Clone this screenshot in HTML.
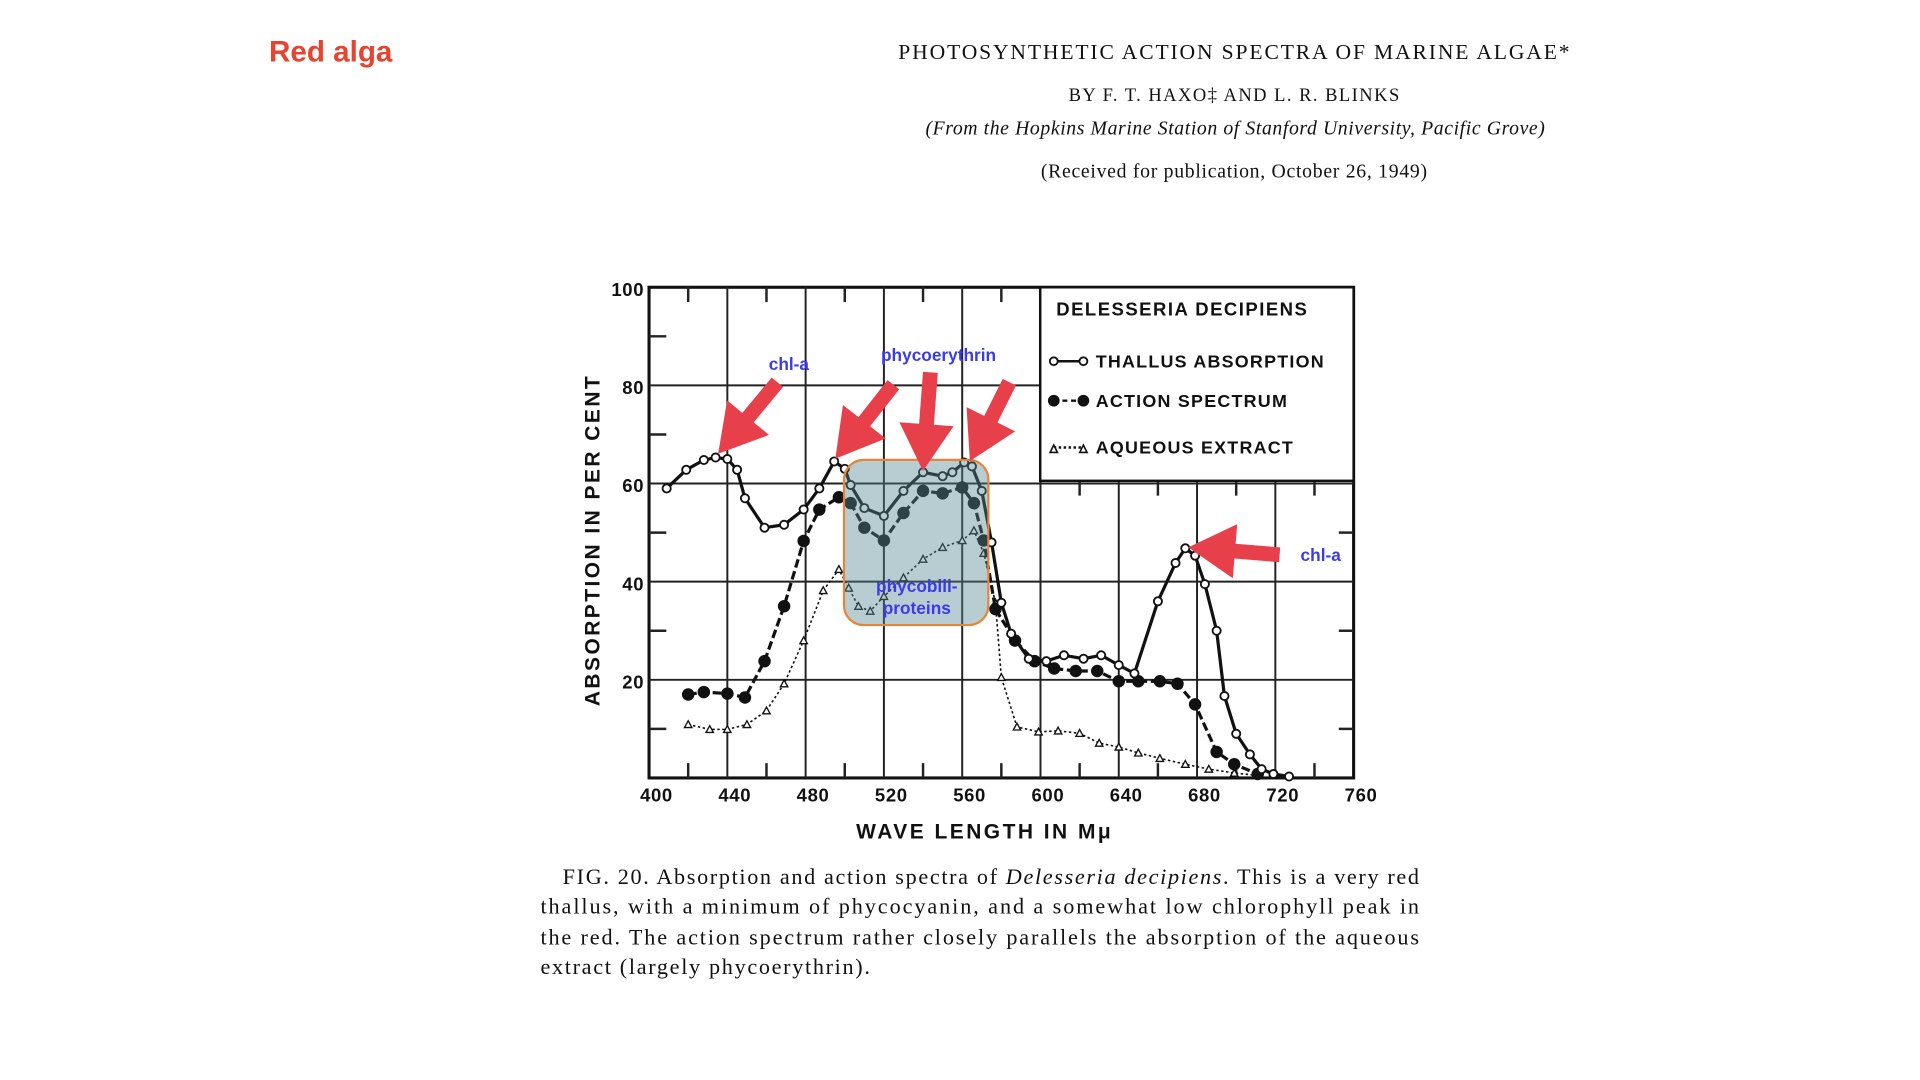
<!DOCTYPE html>
<html><head><meta charset="utf-8"><style>
html,body{margin:0;padding:0;background:#fff;width:1920px;height:1080px;overflow:hidden}
svg{display:block}
.sc{font-family:"Liberation Sans",sans-serif;font-weight:bold;fill:#111}
.sf{font-family:"Liberation Serif",serif;fill:#111}
</style></head><body>
<svg id="chart" width="1920" height="1080" viewBox="0 0 1556 876" preserveAspectRatio="none" xmlns="http://www.w3.org/2000/svg">
<text x="218" y="50" font-family="Liberation Sans,sans-serif" font-weight="bold" font-size="24" fill="#e8432f">Red alga</text>
<text class="sf" x="1000" y="48" text-anchor="middle" font-size="17.5" textLength="544">PHOTOSYNTHETIC ACTION SPECTRA OF MARINE ALGAE*</text>
<text class="sf" x="1000" y="82" text-anchor="middle" font-size="15" textLength="268">BY F. T. HAXO‡ AND L. R. BLINKS</text>
<text class="sf" x="1001" y="109" text-anchor="middle" font-size="16" font-style="italic" textLength="502">(From the Hopkins Marine Station of Stanford University, Pacific Grove)</text>
<text class="sf" x="1000" y="144" text-anchor="middle" font-size="16" textLength="313">(Received for publication, October 26, 1949)</text>
<g id="plot"></g>
<g id="caption">
<text class="sf" x="456" y="717" font-size="18" textLength="694">FIG. 20.  Absorption and action spectra of <tspan font-style="italic">Delesseria decipiens</tspan>. This is a very red</text>
<text class="sf" x="438" y="741" font-size="18" textLength="712">thallus, with a minimum of phycocyanin, and a somewhat low chlorophyll peak in</text>
<text class="sf" x="438" y="766" font-size="18" textLength="712">the red. The action spectrum rather closely parallels the absorption of the aqueous</text>
<text class="sf" x="438" y="790" font-size="18" textLength="267">extract (largely phycoerythrin).</text>
</g>
</svg>
<script>
const xTicks=[400,440,480,520,560,600,640,680,720,760];
const yTicks=[20,40,60,80,100];
const thallusX=[409,419,428,434,440,445,449,459,469,479,487,494.6,500,503,510,520,530,540,550,555,561,565,570,575,580,585,594,603,612,622,631,640,648,660,669,674,679,684,690,694,700,707,713,719,727];
const thallusY=[59,62.8,64.8,65.3,65,62.8,57,51,51.6,54.7,59,64.5,63,59.7,55,53.4,58.5,62.3,61.5,62.3,64.3,63.5,58.5,48,35.7,29.4,24.3,23.8,25,24.3,25,23,21.3,36,43.8,46.8,45.3,39.5,30,16.7,9,4.8,1.8,0.8,0.3];
const actionX=[420,428,440,449,459,469,479,487,497,503,510,520,530,540,550,560,566,571,577,587,597,607,618,629,640,650,661,670,679,690,699,711];
const actionY=[17,17.5,17.2,16.4,23.8,35,48.3,54.7,57.2,56,51,48.4,54,58.5,58,59.2,56,48.4,34.4,28,23.8,22.3,21.8,21.8,19.7,19.7,19.7,19.2,15,5.3,2.8,0.8];
const aqueousX=[420,431,440,450,460,469,479,489,497,502,507,513,520,530,540,550,560,566,571,577,580,588,599,609,620,630,640,650,661,674,686,699,711];
const aqueousY=[10.9,9.9,9.9,10.9,13.7,19.2,28,38.2,42.5,38.7,35,34,37,40.8,44.6,47,48.4,50.4,45.8,35.7,20.5,10.4,9.4,9.6,9.1,7.1,6.3,5.1,4,2.8,1.8,1,0.5];

const NS="http://www.w3.org/2000/svg";
const L=526,R=1097,T=233,B=631;
const sx=v=>L+(v-400)*(R-L)/360;
const sy=v=>B-v*(B-T)/100;
const g=document.getElementById('plot');
function mk(tag,a,parent){const e=document.createElementNS(NS,tag);for(const k in a)e.setAttribute(k,a[k]);(parent||g).appendChild(e);return e;}
// frame
let e=mk('rect',{x:L,y:T,width:R-L,height:B-T,fill:'none',stroke:'#111','stroke-width':2.5});


// grid verticals
[440,480,520,560,600,640,680,720].forEach(v=>{
 const x=sx(v);const top=(x>843)?390:T;
 e=mk('line',{x1:x,x2:x,y1:top,y2:B,stroke:'#222','stroke-width':1.6});
 
 
});
[20,40,60,80].forEach(v=>{
 const y=sy(v);const right=(y<390)?843:R;
 e=mk('line',{x1:L,x2:right,y1:y,y2:y,stroke:'#222','stroke-width':1.6});
 
 
});
// minor ticks
[420,460,500,540,580,620,660,700,740].forEach(v=>{const x=sx(v);
 if(x<843)mk('line',{x1:x,x2:x,y1:T,y2:T+12,stroke:'#222','stroke-width':2});
 mk('line',{x1:x,x2:x,y1:B,y2:B-12,stroke:'#222','stroke-width':2});
 if(x>843)mk('line',{x1:x,x2:x,y1:390,y2:402,stroke:'#222','stroke-width':2});
});
[10,30,50,70,90].forEach(v=>{const y=sy(v);
 mk('line',{x1:L,x2:L+14,y1:y,y2:y,stroke:'#222','stroke-width':2});
 if(y>390)mk('line',{x1:R,x2:R-12,y1:y,y2:y,stroke:'#222','stroke-width':2});
});
// legend box
e=mk('rect',{x:843,y:T,width:R-843,height:157,fill:'#fff',stroke:'#111','stroke-width':2});


function txt(s,a){const t=mk('text',a);t.textContent=s;return t;}
e=txt('DELESSERIA DECIPIENS',{x:856,y:256,'font-size':15,class:'sc','letter-spacing':1.2});


const leg=[['THALLUS  ABSORPTION',298,'o'],['ACTION  SPECTRUM',330,'f'],['AQUEOUS  EXTRACT',368,'t']];
leg.forEach(l=>{
 const y=l[1]-5;
 mk('line',{x1:854,x2:878,y1:y,y2:y,stroke:'#111','stroke-width':2,'stroke-dasharray':l[2]=='o'?'':(l[2]=='f'?'4,3':'2,2')});
 if(l[2]=='t'){mk('path',{d:`M851,${y+4}l3,-6l3,6z`,fill:'#fff',stroke:'#111','stroke-width':1.3});mk('path',{d:`M875,${y+4}l3,-6l3,6z`,fill:'#fff',stroke:'#111','stroke-width':1.3});}
 else{mk('circle',{cx:854,cy:y,r:l[2]=='f'?4:3.2,fill:l[2]=='f'?'#111':'#fff',stroke:'#111','stroke-width':1.5});mk('circle',{cx:878,cy:y,r:l[2]=='f'?4:3.2,fill:l[2]=='f'?'#111':'#fff',stroke:'#111','stroke-width':1.5});}
 e=txt(l[0],{x:888,y:l[1],'font-size':14.5,class:'sc','letter-spacing':1});
 
 
});
// tick labels
xTicks.forEach(v=>{e=txt(String(v),{x:sx(v)+6,y:650,'font-size':15,class:'sc','text-anchor':'middle','letter-spacing':0.5});
 
 });
yTicks.forEach(v=>{e=txt(String(v),{x:522,y:sy(v)+7,'font-size':15,class:'sc','text-anchor':'end','letter-spacing':0.5});
 
 });
e=txt('WAVE  LENGTH  IN  Mμ',{x:798,y:680,'font-size':17,class:'sc','text-anchor':'middle','letter-spacing':2});


e=txt('ABSORPTION  IN  PER  CENT',{x:0,y:0,'font-size':17,class:'sc','text-anchor':'middle','letter-spacing':2,transform:'translate(486,438) rotate(-90)'});


// series
function series(xs,ys,name,dash,mark,w){
 const pts=xs.map((x,i)=>sx(x)+','+sy(ys[i])).join(' ');
 e=mk('polyline',{points:pts,fill:'none',stroke:'#111','stroke-width':w,'stroke-dasharray':dash,'stroke-linejoin':'round'});
 
 
 xs.forEach((x,i)=>{const cx=sx(x),cy=sy(ys[i]);
  if(mark=='t')e=mk('path',{d:`M${cx-3},${cy+2.5}l3,-5.5l3,5.5z`,fill:'#fff',stroke:'#111','stroke-width':1.1});
  else e=mk('circle',{cx:cx,cy:cy,r:mark=='f'?4.3:3.3,fill:mark=='f'?'#111':'#fff',stroke:'#111','stroke-width':1.5});
  
  
 });
}
series(aqueousX,aqueousY,'aqueous-extract','2,2','t',1.3);
series(actionX,actionY,'action-spectrum','7,3','f',2.6);
series(thallusX,thallusY,'thallus-absorption','','o',2.6);
// overlay box
e=mk('rect',{x:684,y:373,width:117,height:134,rx:16,fill:'rgba(85,135,145,0.42)',stroke:'#e8843a','stroke-width':1.8});


// arrows
function arrow(x1,y1,x2,y2,name){
 const dx=x2-x1,dy=y2-y1,len=Math.hypot(dx,dy),ux=dx/len,uy=dy/len,px=-uy,py=ux;
 const hl=38,hw=22,sw=6;
 const bx=x2-ux*hl,by=y2-uy*hl;
 const p=[[x1+px*sw,y1+py*sw],[bx+px*sw,by+py*sw],[bx+px*hw,by+py*hw],[x2,y2],[bx-px*hw,by-py*hw],[bx-px*sw,by-py*sw],[x1-px*sw,y1-py*sw]];
 e=mk('polygon',{points:p.map(q=>q.join(',')).join(' '),fill:'#e8404a'});
 
 
}
arrow(630,310,582,368,'chl-a-arrow-blue');
arrow(724,312,677,372,'phycoerythrin-arrow-1');
arrow(754,302,748,382,'phycoerythrin-arrow-2');
arrow(818,310,786,374,'phycoerythrin-arrow-3');
arrow(1037,450,963,444,'chl-a-arrow-red');
const blue={'font-family':'Liberation Sans,sans-serif','font-weight':'bold','font-size':14,fill:'#3b3be8'};
[['chl-a',623,300,'start'],['phycoerythrin',714,293,'start'],['chl-a',1054,455,'start'],['phycobili-',743,480,'middle'],['proteins',743,498,'middle']].forEach(a=>{
 const o=Object.assign({x:a[1],y:a[2],'text-anchor':a[3]},blue);
 e=txt(a[0],o);
 
 
});
</script>
</body></html>
